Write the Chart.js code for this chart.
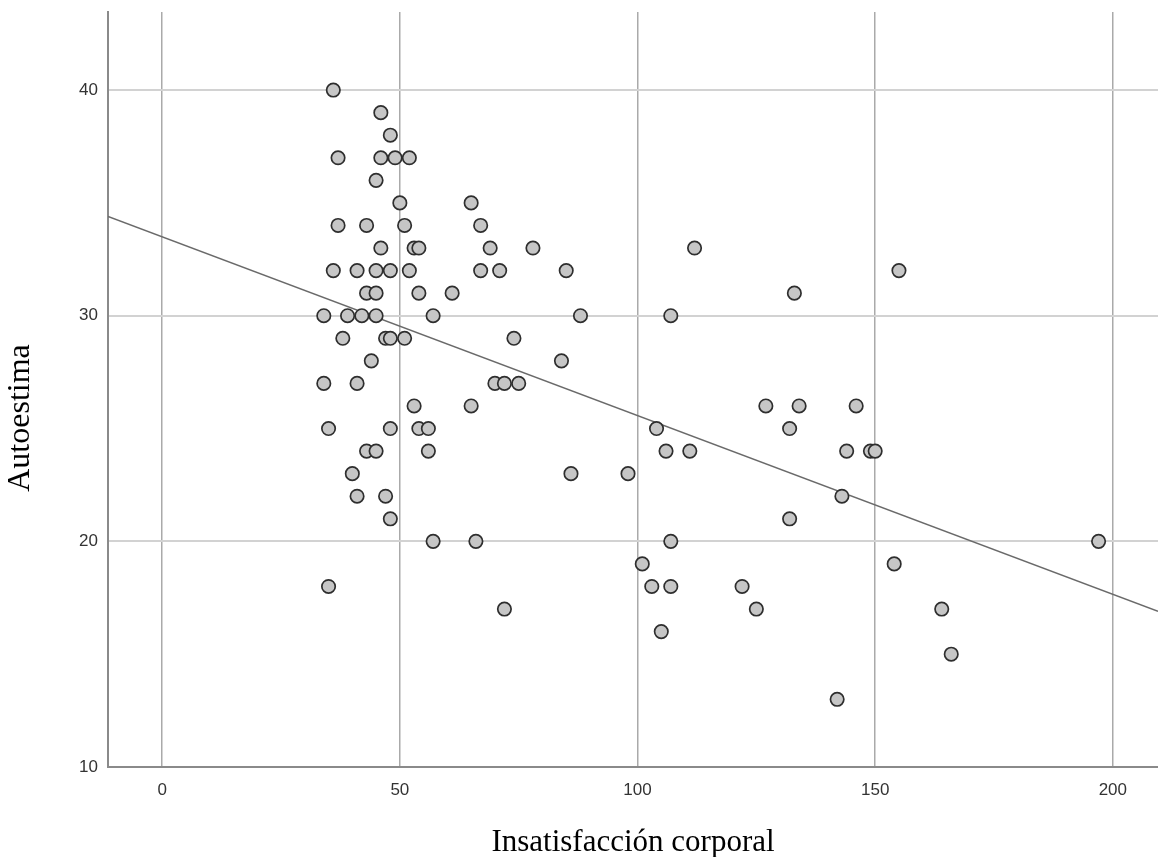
<!DOCTYPE html>
<html>
<head>
<meta charset="utf-8">
<script src="https://cdn.jsdelivr.net/npm/chart.js@4"></script>
<style>
  body { margin: 0; background: #fff; }
  #wrap { width: 1158px; height: 857px; }
</style>
</head>
<body>
<div id="wrap"><canvas id="myChart"></canvas></div>
<script>
// Insatisfacción corporal (x) vs Autoestima (y)
var insatisfaccion = [
  36,
  46,
  48,
  37, 46, 49, 52,
  45,
  50, 65,
  37, 43, 51, 67,
  46, 53, 54, 69, 78, 112,
  36, 41, 45, 48, 52, 67, 71, 85, 155,
  43, 45, 54, 61, 133,
  34, 39, 42, 45, 57, 88, 107,
  38, 47, 48, 51, 74,
  44, 84,
  34, 41, 70, 72, 75,
  53, 65, 127, 134, 146,
  35, 48, 54, 56, 104, 132,
  43, 45, 56, 106, 111, 144, 149, 150,
  40, 86, 98,
  41, 47, 143,
  48, 132,
  57, 66, 107, 197,
  101, 154,
  35, 103, 107, 122,
  72, 125, 164,
  105,
  166,
  142
];
var autoestima = [
  40,
  39,
  38,
  37, 37, 37, 37,
  36,
  35, 35,
  34, 34, 34, 34,
  33, 33, 33, 33, 33, 33,
  32, 32, 32, 32, 32, 32, 32, 32, 32,
  31, 31, 31, 31, 31,
  30, 30, 30, 30, 30, 30, 30,
  29, 29, 29, 29, 29,
  28, 28,
  27, 27, 27, 27, 27,
  26, 26, 26, 26, 26,
  25, 25, 25, 25, 25, 25,
  24, 24, 24, 24, 24, 24, 24, 24,
  23, 23, 23,
  22, 22, 22,
  21, 21,
  20, 20, 20, 20,
  19, 19,
  18, 18, 18, 18,
  17, 17, 17,
  16,
  15,
  13
];
// fit line ends as drawn in the picture
var ajusteX = [-11.4, 209.5];
var ajusteY = [34.4, 16.9];
var xTicks = [0, 50, 100, 150, 200];
var yTicks = [10, 20, 30, 40];

var puntos = insatisfaccion.map(function (v, i) { return {x: v, y: autoestima[i]}; });
var linea = ajusteX.map(function (v, i) { return {x: v, y: ajusteY[i]}; });

var yTitle = {
  id: 'yTitle',
  afterDraw: function (chart) {
    var c = chart.ctx;
    c.save();
    c.translate(21, 418);
    c.rotate(-Math.PI / 2);
    c.font = '32px "Liberation Serif"';
    c.fillStyle = '#000';
    c.textAlign = 'center';
    c.textBaseline = 'middle';
    c.fillText('Autoestima', 0, 0);
    c.restore();
  }
};

var ctx = document.getElementById('myChart').getContext('2d');
var myChart = new Chart(ctx, {
  type: 'scatter',
  data: {
    datasets: [{
        data: puntos,
        label: 'Autoestima',
        borderColor: '#2e2e2e',
        backgroundColor: '#c6c6c6',
        borderWidth: 1.7,
        pointRadius: 6.7,
        order: 1
      }, {
        type: 'line',
        data: linea,
        label: 'Ajuste',
        borderColor: '#6a6a6a',
        borderWidth: 1.5,
        pointRadius: 0,
        fill: false,
        order: 2
      }
    ]
  },
  options: {
    responsive: true,
    maintainAspectRatio: false,
    animation: false,
    layout: { autoPadding: false, padding: { top: 12, right: 0, left: 0, bottom: 0 } },
    plugins: {
      legend: { display: false },
      tooltip: { enabled: false }
    },
    scales: {
      x: {
        type: 'linear',
        min: -11.4,
        max: 209.5,
        afterBuildTicks: function (s) { s.ticks = xTicks.map(function (v) { return {value: v}; }); },
        afterFit: function (s) { s.height = 90; s.paddingLeft = 0; s.paddingRight = 0; },
        grid: { color: '#aaaaaa', lineWidth: 1.5, drawTicks: false },
        border: { color: '#8a8a8a', width: 2 },
        ticks: { color: '#333', padding: 13, font: { family: 'Liberation Sans', size: 17 } },
        title: {
          display: true,
          text: 'Insatisfacción corporal',
          color: '#000',
          padding: { top: 0, bottom: -4 },
          font: { family: 'Liberation Serif', size: 31 }
        }
      },
      y: {
        min: 10,
        max: 43.46,
        afterBuildTicks: function (s) { s.ticks = yTicks.map(function (v) { return {value: v}; }); },
        afterFit: function (s) { s.width = 108; s.paddingTop = 0; s.paddingBottom = 0; },
        grid: { color: '#d2d2d2', lineWidth: 2, drawTicks: false },
        border: { color: '#8a8a8a', width: 2 },
        ticks: { color: '#333', padding: 10, font: { family: 'Liberation Sans', size: 17 } }
      }
    }
  },
  plugins: [yTitle]
});
</script>
</body>
</html>
